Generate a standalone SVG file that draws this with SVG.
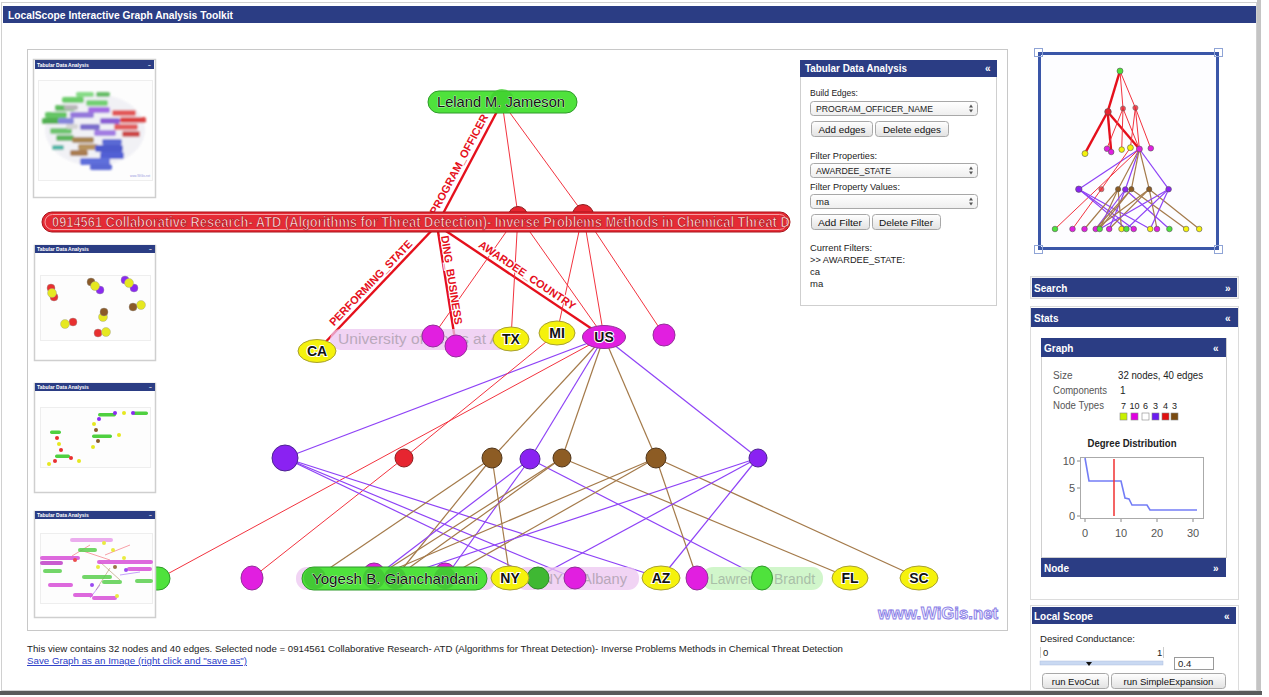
<svg xmlns="http://www.w3.org/2000/svg" width="1269" height="697" viewBox="0 0 1269 697">
<defs>
<style>
text{font-family:"Liberation Sans",Arial,sans-serif}
.hdr{fill:#2b3d84}
.ht{fill:#fff;font-weight:bold;font-size:10px}
.tt{fill:#fff;font-weight:bold;font-size:5px}
.lbl{font-size:9.5px;fill:#222}
.btn{fill:url(#gbtn);stroke:#a8a8a8}
.sel{fill:url(#gsel);stroke:#a8a8a8}
.bt{font-size:9.5px;fill:#111;text-anchor:middle}
.panel{fill:#fff;stroke:#cfcfcf}
#connectors line{vector-effect:non-scaling-stroke;fill:none}
.er{stroke:#f2333f;stroke-width:1}
.et{stroke:#e5101c;stroke-width:2.4}
.ep{stroke:#8e42f6;stroke-width:1.2}
.eb{stroke:#a47a4a;stroke-width:1.2}
.ny{fill:#f5f20c;stroke:#a8a030}
.nm{fill:#e11fe0;stroke:#93309a}
.np{fill:#8a22f2;stroke:#4d2590}
.nr{fill:#e62530;stroke:#8e2020}
.nb{fill:#8d5c24;stroke:#50351a}
.ng{fill:#4fe23c;stroke:#2f9a2a}
.nl{font-size:14px;font-weight:bold;fill:#111;text-anchor:middle;stroke:#fff;stroke-width:2;paint-order:stroke}
.el{font-size:11px;font-weight:bold;fill:#e5101c;stroke:#fff;stroke-width:2;paint-order:stroke;text-anchor:middle}
.mm circle{stroke:#555;stroke-width:.6}
.st{font-size:10px;fill:#555}
.sv{font-size:10px;fill:#222}
.ax{font-size:11px;fill:#555}
</style>
<linearGradient id="gbtn" x1="0" y1="0" x2="0" y2="1"><stop offset="0" stop-color="#ffffff"/><stop offset="1" stop-color="#e2e2e2"/></linearGradient>
<linearGradient id="gsel" x1="0" y1="0" x2="0" y2="1"><stop offset="0" stop-color="#ffffff"/><stop offset="1" stop-color="#eeeeee"/></linearGradient>
<clipPath id="barclip"><rect x="42" y="212" width="748" height="20" rx="10"/></clipPath>
<filter id="soft" x="-10%" y="-10%" width="120%" height="120%"><feGaussianBlur stdDeviation="1"/></filter>
</defs>

<!-- page -->
<rect x="0" y="0" width="1269" height="697" fill="#ffffff"/>
<rect x="1.5" y="2.5" width="1255" height="688" fill="none" stroke="#d0d0d0"/>
<rect x="1257" y="0" width="4" height="692" fill="#c4c4c4"/>
<rect x="0" y="691" width="1262" height="4" fill="#5a5a5a"/>

<!-- title bar -->
<g id="titlebar">
<rect x="3" y="6" width="1253" height="17" class="hdr"/>
<text x="8" y="18.5" class="ht" font-size="10" textLength="225" lengthAdjust="spacingAndGlyphs">LocalScope Interactive Graph Analysis Toolkit</text>
</g>

<!-- main canvas -->
<rect x="27.5" y="49.5" width="980" height="581" fill="#fff" stroke="#c8c8c8"/>

<!-- connectors -->
<g id="connectors">
<line class="et" x1="502" y1="102" x2="437" y2="225"/>
<line class="er" x1="502" y1="102" x2="518" y2="215"/>
<line class="er" x1="502" y1="102" x2="583" y2="213"/>
<line class="et" x1="437" y1="225" x2="317" y2="351"/>
<line class="et" x1="437" y1="225" x2="456" y2="346"/>
<line class="et" x1="437" y1="225" x2="604" y2="337"/>
<line class="er" x1="518" y1="215" x2="433" y2="336"/>
<line class="er" x1="518" y1="215" x2="511" y2="339"/>
<line class="er" x1="518" y1="215" x2="604" y2="337"/>
<line class="er" x1="583" y1="213" x2="557" y2="333"/>
<line class="er" x1="583" y1="213" x2="604" y2="337"/>
<line class="er" x1="583" y1="213" x2="664" y2="335"/>
<line class="ep" x1="604" y1="337" x2="285" y2="458"/>
<line class="eb" x1="604" y1="337" x2="492" y2="458"/>
<line class="ep" x1="604" y1="337" x2="530" y2="459"/>
<line class="eb" x1="604" y1="337" x2="562" y2="458"/>
<line class="eb" x1="604" y1="337" x2="656" y2="458"/>
<line class="ep" x1="604" y1="337" x2="758" y2="458"/>
<line class="er" x1="557" y1="333" x2="404" y2="458"/>
<line class="er" x1="404" y1="458" x2="252" y2="578"/>
<line class="er" x1="604" y1="337" x2="160" y2="578"/>
<line class="ep" x1="285" y1="458" x2="536" y2="578"/>
<line class="ep" x1="285" y1="458" x2="574" y2="578"/>
<line class="ep" x1="285" y1="458" x2="661" y2="578"/>
<line class="eb" x1="492" y1="458" x2="315" y2="578"/>
<line class="eb" x1="492" y1="458" x2="395" y2="578"/>
<line class="eb" x1="492" y1="458" x2="510" y2="578"/>
<line class="ep" x1="530" y1="459" x2="374" y2="578"/>
<line class="ep" x1="530" y1="459" x2="445" y2="578"/>
<line class="ep" x1="530" y1="459" x2="762" y2="578"/>
<line class="eb" x1="562" y1="458" x2="374" y2="578"/>
<line class="eb" x1="562" y1="458" x2="395" y2="578"/>
<line class="eb" x1="562" y1="458" x2="850" y2="578"/>
<line class="eb" x1="656" y1="458" x2="445" y2="578"/>
<line class="eb" x1="656" y1="458" x2="697" y2="578"/>
<line class="eb" x1="656" y1="458" x2="919" y2="578"/>
<line class="eb" x1="656" y1="458" x2="374" y2="578"/>
<line class="ep" x1="758" y1="458" x2="395" y2="578"/>
<line class="ep" x1="758" y1="458" x2="536" y2="578"/>
<line class="ep" x1="758" y1="458" x2="661" y2="578"/>
</g>

<!-- edge labels -->
<g id="edge-labels">
<text class="el" transform="translate(464,167) rotate(-62)" y="-2" textLength="112" lengthAdjust="spacingAndGlyphs">PROGRAM_OFFICER</text>
<text class="el" transform="translate(375,287) rotate(-46)" y="-2" textLength="114" lengthAdjust="spacingAndGlyphs">PERFORMING_STATE</text>
<text class="el" transform="translate(446,281) rotate(81)" y="-2" textLength="90" lengthAdjust="spacingAndGlyphs">DING_BUSINESS</text>
<text class="el" transform="translate(524,280) rotate(34)" y="-2" textLength="114" lengthAdjust="spacingAndGlyphs">AWARDEE_COUNTRY</text>
</g>

<!-- faint (unselected) labels -->
<g id="faint-labels">
<rect x="330" y="329" width="180" height="21" rx="10" fill="#ecc6f0" opacity="0.75"/>
<text x="338" y="344" font-size="14" fill="#b9a9bb" textLength="162" lengthAdjust="spacingAndGlyphs">University of Texas at A</text>
<rect x="296" y="567" width="200" height="23" rx="11" fill="#ecc6f0" opacity="0.75"/>
<rect x="515" y="567" width="124" height="23" rx="11" fill="#ecc6f0" opacity="0.75"/>
<text x="522" y="584" font-size="14" fill="#b8a8ba" textLength="105" lengthAdjust="spacingAndGlyphs">SUNY at Albany</text>
<rect x="702" y="567" width="121" height="23" rx="11" fill="#c9f5c2" opacity="0.85"/>
<text x="710" y="584" font-size="14" fill="#a9bfa8" textLength="105" lengthAdjust="spacingAndGlyphs">Lawrence Brandt</text>
</g>

<!-- level 2 nodes -->
<g id="n-ca"><ellipse class="ny" cx="317" cy="351" rx="19" ry="11.5"/><text class="nl" x="317" y="356">CA</text></g>
<g id="n-m433"><circle class="nm" cx="433" cy="336" r="11"/></g>
<g id="n-m456"><circle class="nm" cx="456" cy="346" r="11"/></g>
<g id="n-tx"><ellipse class="ny" cx="511" cy="339" rx="18" ry="12"/><text class="nl" x="511" y="344">TX</text></g>
<g id="n-mi"><ellipse class="ny" cx="557" cy="333" rx="18" ry="12"/><text class="nl" x="557" y="338">MI</text></g>
<g id="n-us"><ellipse class="nm" cx="604" cy="337" rx="21.5" ry="11.5"/><text class="nl" x="604" y="342">US</text></g>
<g id="n-m664"><circle class="nm" cx="664" cy="335" r="11"/></g>

<!-- level 3 nodes -->
<g id="n-p285"><circle class="np" cx="285" cy="458" r="13"/></g>
<g id="n-r404"><circle class="nr" cx="404" cy="458" r="9"/></g>
<g id="n-b492"><circle class="nb" cx="492" cy="458" r="10"/></g>
<g id="n-p530"><circle class="np" cx="530" cy="459" r="10"/></g>
<g id="n-b562"><circle class="nb" cx="562" cy="458" r="9"/></g>
<g id="n-b656"><circle class="nb" cx="656" cy="458" r="10"/></g>
<g id="n-p758"><circle class="np" cx="758" cy="458" r="9"/></g>

<!-- bottom row -->
<g id="n-g160"><rect class="ng" x="95" y="567" width="75" height="23" rx="11.5"/></g>
<g id="n-m252"><ellipse class="nm" cx="252" cy="578" rx="11" ry="12"/></g>
<g id="n-m374"><circle class="nm" cx="374" cy="574" r="11"/></g>
<g id="n-m445"><circle class="nm" cx="445" cy="574" r="11"/></g>
<g id="n-yogesh">
<rect class="ng" x="302" y="567" width="185" height="23" rx="11.5"/>
<circle cx="315" cy="578" r="11" fill="#3db52f" opacity="0.55"/>
<circle cx="374" cy="578" r="11" fill="#3db52f" opacity="0.55"/>
<circle cx="395" cy="578" r="11" fill="#3db52f" opacity="0.55"/>
<circle cx="445" cy="578" r="11" fill="#3db52f" opacity="0.55"/>
<text x="395" y="584" font-size="15" fill="#111" text-anchor="middle" stroke="#fff" stroke-width="0.6" paint-order="stroke" textLength="166" lengthAdjust="spacingAndGlyphs">Yogesh B. Gianchandani</text>
</g>
<g id="n-g536"><circle cx="538" cy="578" r="11" fill="#3fb833" stroke="#2f8a2a"/></g>
<g id="n-ny"><ellipse class="ny" cx="510" cy="578" rx="19" ry="12"/><text class="nl" x="510" y="583">NY</text></g>
<g id="n-m574"><circle class="nm" cx="575" cy="578" r="11"/></g>
<g id="n-az"><ellipse class="ny" cx="661" cy="578" rx="19" ry="12"/><text class="nl" x="661" y="583">AZ</text></g>
<g id="n-m697"><ellipse class="nm" cx="697" cy="578" rx="11" ry="12"/></g>
<g id="n-g762"><ellipse class="ng" cx="762" cy="578" rx="10.5" ry="12"/></g>
<g id="n-fl"><ellipse class="ny" cx="850" cy="578" rx="18" ry="12"/><text class="nl" x="850" y="583">FL</text></g>
<g id="n-sc"><ellipse class="ny" cx="919" cy="578" rx="19" ry="12"/><text class="nl" x="919" y="583">SC</text></g>

<!-- level 1 red nodes -->
<g id="n-r518"><circle class="nr" cx="518" cy="216" r="9.5"/></g>
<g id="n-r583"><circle class="nr" cx="583" cy="215" r="10.5"/></g>

<!-- selected node bar -->
<g id="n-selected">
<rect x="42" y="212" width="748" height="20" rx="10" fill="#e52b35" stroke="#a8121a"/>
<rect x="45" y="214.5" width="742" height="15" rx="7.5" fill="none" stroke="#f7a0a4" stroke-width="1"/>
<g clip-path="url(#barclip)">
<text transform="translate(52,227) scale(0.87,1)" x="0" y="0" font-size="14" font-weight="bold" fill="#ffe4e4" stroke="#b30d16" stroke-width="0.7" textLength="848" lengthAdjust="spacingAndGlyphs">0914561 Collaborative Research- ATD (Algorithms for Threat Detection)- Inverse Problems Methods in Chemical Threat D</text>
</g>
</g>

<!-- top node -->
<g id="n-leland">
<rect class="ng" x="428" y="91" width="149" height="22" rx="11"/>
<circle cx="502" cy="101" r="12" fill="#3fcf2e" opacity="0.75"/>
<text x="501" y="107" font-size="15" fill="#111" text-anchor="middle" stroke="#fff" stroke-width="0.6" paint-order="stroke" textLength="128" lengthAdjust="spacingAndGlyphs">Leland M. Jameson</text>
</g>

<!-- watermark -->
<text x="878" y="619" font-size="16" font-weight="bold" fill="#f2f0ff" stroke="#8b80e6" stroke-width="0.9" textLength="120" lengthAdjust="spacingAndGlyphs">www.WiGis.net</text>

<!-- thumbnails -->
<g id="thumb1">
<rect x="33.5" y="59.5" width="122" height="138" class="panel" stroke-width="1.5"/>
<rect x="35" y="60" width="119" height="9" class="hdr"/>
<text x="37" y="66.5" class="tt">Tabular Data Analysis</text>
<text x="148" y="67" class="tt">–</text>
<rect x="38.5" y="80.5" width="114" height="100" fill="#fdfdfd" stroke="#eee"/>
<g filter="url(#soft)" opacity="0.9">
<ellipse cx="95" cy="130" rx="50" ry="36" fill="#f0f0f5"/>
<rect x="62" y="97" width="22" height="6" rx="2" fill="#5cc85a"/>
<rect x="76" y="92" width="18" height="5" rx="2" fill="#7ad87a"/>
<rect x="86" y="100" width="22" height="6" rx="2" fill="#66cc66"/>
<rect x="96" y="92" width="14" height="5" rx="2" fill="#58b858"/>
<rect x="55" y="105" width="20" height="6" rx="2" fill="#4fb84f"/>
<rect x="45" y="112" width="22" height="6" rx="2" fill="#55c055"/>
<rect x="42" y="118" width="18" height="6" rx="2" fill="#3fa83f"/>
<rect x="58" y="118" width="16" height="6" rx="2" fill="#7a7ad8"/>
<rect x="70" y="112" width="24" height="6" rx="2" fill="#8a6ad8"/>
<rect x="88" y="107" width="22" height="6" rx="2" fill="#9a60e0"/>
<rect x="100" y="118" width="20" height="6" rx="2" fill="#8050d0"/>
<rect x="80" y="124" width="20" height="6" rx="2" fill="#7060c8"/>
<rect x="94" y="130" width="22" height="6" rx="2" fill="#9a70e0"/>
<rect x="112" y="110" width="24" height="6" rx="2" fill="#e04848"/>
<rect x="120" y="117" width="26" height="6" rx="2" fill="#d83030"/>
<rect x="114" y="124" width="24" height="6" rx="2" fill="#e05050"/>
<rect x="122" y="131" width="18" height="6" rx="2" fill="#c83838"/>
<rect x="50" y="128" width="22" height="6" rx="2" fill="#60c060"/>
<rect x="56" y="135" width="18" height="6" rx="2" fill="#50b050"/>
<rect x="52" y="145" width="12" height="5" rx="2" fill="#40b0a0"/>
<rect x="72" y="137" width="22" height="6" rx="2" fill="#a07a40"/>
<rect x="78" y="144" width="20" height="6" rx="2" fill="#b08850"/>
<rect x="70" y="150" width="18" height="6" rx="2" fill="#a07040"/>
<rect x="102" y="139" width="20" height="6" rx="2" fill="#4a5ad0"/>
<rect x="95" y="145" width="28" height="7" rx="2" fill="#3a4ac8"/>
<rect x="100" y="152" width="24" height="7" rx="2" fill="#4050d0"/>
<rect x="80" y="158" width="30" height="7" rx="2" fill="#5060d8"/>
<rect x="90" y="164" width="22" height="6" rx="2" fill="#4a58d0"/>
<rect x="64" y="105" width="14" height="5" rx="2" fill="#b0b0b0"/>
<rect x="66" y="124" width="12" height="5" rx="2" fill="#d0d0d0"/>
</g>
<text x="130" y="177" font-size="3" fill="#9a9ae0">www.WiGis.net</text>
</g>

<g id="thumb2">
<rect x="34.5" y="245.5" width="121" height="115" class="panel" stroke-width="1.5"/>
<rect x="35" y="245" width="120" height="8" class="hdr"/>
<text x="37" y="251" class="tt">Tabular Data Analysis</text>
<text x="149" y="251" class="tt">–</text>
<rect x="40.5" y="275.5" width="110" height="65" fill="#fdfdfd" stroke="#eee"/>
<g stroke="#999" stroke-width="0.4">
<circle cx="51" cy="288" r="4" fill="#e83030"/><circle cx="54" cy="297" r="4" fill="#e83030"/><circle cx="52" cy="293" r="4.5" fill="#e6e820"/>
<circle cx="91" cy="282" r="4" fill="#8a5a28"/><circle cx="100" cy="290" r="4" fill="#8a2af0"/><circle cx="95" cy="286" r="4.5" fill="#e6e820"/>
<circle cx="125" cy="280" r="4" fill="#8a2af0"/><circle cx="134" cy="288" r="4" fill="#8a2af0"/><circle cx="129" cy="283" r="4.5" fill="#e6e820"/>
<circle cx="141" cy="305" r="4.5" fill="#e6e820"/><circle cx="133" cy="307" r="4" fill="#8a5a28"/>
<circle cx="103" cy="317" r="4.5" fill="#e6e820"/><circle cx="104" cy="312" r="4" fill="#8a5a28"/>
<circle cx="73" cy="322" r="4" fill="#e83030"/><circle cx="65" cy="324" r="4.5" fill="#e6e820"/>
<circle cx="98" cy="333" r="4" fill="#e83030"/><circle cx="106" cy="332" r="4.5" fill="#e6e820"/>
</g>
</g>

<g id="thumb3">
<rect x="34.5" y="383.5" width="121" height="109" class="panel" stroke-width="1.5"/>
<rect x="35" y="383" width="120" height="8" class="hdr"/>
<text x="37" y="389" class="tt">Tabular Data Analysis</text>
<text x="149" y="389" class="tt">–</text>
<rect x="40.5" y="407.5" width="110" height="60" fill="#fdfdfd" stroke="#eee"/>
<g>
<rect x="98" y="413" width="18" height="3.5" rx="1.7" fill="#4fd040"/>
<rect x="133" y="411.5" width="15" height="3.5" rx="1.7" fill="#4fd040"/>
<rect x="92" y="434.5" width="20" height="3.5" rx="1.7" fill="#4fd040"/>
<rect x="50" y="430.5" width="11" height="3.5" rx="1.7" fill="#4fd040"/>
<rect x="55" y="454.5" width="15" height="3.5" rx="1.7" fill="#4fd040"/>
<circle cx="99" cy="419" r="2" fill="#8a2af0"/><circle cx="115" cy="413" r="2" fill="#8a2af0"/><circle cx="124" cy="413" r="2" fill="#e6e820"/><circle cx="133" cy="413" r="2" fill="#8a2af0"/>
<circle cx="94" cy="424" r="2" fill="#e6e820"/><circle cx="96" cy="430" r="2" fill="#8a5a28"/><circle cx="119" cy="435" r="2" fill="#e6e820"/><circle cx="98" cy="441" r="2" fill="#8a5a28"/><circle cx="93" cy="447" r="2" fill="#e6e820"/>
<circle cx="57" cy="438" r="2" fill="#e83030"/><circle cx="59" cy="444" r="2" fill="#e6e820"/><circle cx="61" cy="450" r="2" fill="#e83030"/><circle cx="71" cy="458" r="2" fill="#e83030"/><circle cx="79" cy="461" r="2" fill="#e6e820"/><circle cx="55" cy="461" r="2" fill="#e83030"/><circle cx="49" cy="464" r="2" fill="#e6e820"/>
</g>
</g>

<g id="thumb4">
<rect x="34.5" y="511.5" width="121" height="106" class="panel" stroke-width="1.5"/>
<rect x="35" y="511" width="120" height="8" class="hdr"/>
<text x="37" y="517" class="tt">Tabular Data Analysis</text>
<text x="149" y="517" class="tt">–</text>
<rect x="40.5" y="533.5" width="112" height="70" fill="#fdfdfd" stroke="#eee"/>
<g stroke-width="0.5" fill="none">
<line x1="80" y1="550" x2="110" y2="560" stroke="#f04050"/><line x1="72" y1="556" x2="90" y2="545" stroke="#f04050"/>
<line x1="100" y1="562" x2="120" y2="580" stroke="#a07a48"/><line x1="110" y1="568" x2="96" y2="590" stroke="#a07a48"/>
<line x1="120" y1="575" x2="140" y2="572" stroke="#8e42f6"/><line x1="100" y1="585" x2="90" y2="598" stroke="#8e42f6"/>
<line x1="105" y1="555" x2="130" y2="545" stroke="#f04050"/>
</g>
<g opacity="0.85">
<rect x="70" y="538" width="43" height="4" rx="2" fill="#e8a0ec"/>
<rect x="40" y="556" width="40" height="4" rx="2" fill="#d850d8"/>
<rect x="40" y="561" width="23" height="4" rx="2" fill="#c040c8"/>
<rect x="78" y="548" width="19" height="4" rx="2" fill="#5cd050"/>
<rect x="43" y="569" width="19" height="4" rx="2" fill="#5cd050"/>
<rect x="97" y="560" width="56" height="4" rx="2" fill="#d850d8"/>
<rect x="127" y="567" width="25" height="4" rx="2" fill="#d850d8"/>
<rect x="82" y="575" width="30" height="4" rx="2" fill="#5cd050"/>
<rect x="102" y="580" width="20" height="4" rx="2" fill="#5cd050"/>
<rect x="135" y="579" width="18" height="4" rx="2" fill="#5cd050"/>
<rect x="48" y="583" width="25" height="4" rx="2" fill="#d850d8"/>
<rect x="73" y="593" width="20" height="4" rx="2" fill="#d850d8"/>
<rect x="92" y="596" width="25" height="4" rx="2" fill="#d850d8"/>
<circle cx="104" cy="543" r="2" fill="#e6e820"/><circle cx="113" cy="550" r="2" fill="#e6e820"/><circle cx="124" cy="558" r="2" fill="#e6e820"/>
<circle cx="98" cy="567" r="2" fill="#e6e820"/><circle cx="115" cy="567" r="2" fill="#8a5a28"/><circle cx="126" cy="570" r="2" fill="#8a2af0"/>
<circle cx="92" cy="585" r="2" fill="#8a2af0"/><circle cx="117" cy="596" r="2" fill="#e6e820"/><circle cx="75" cy="560" r="2" fill="#e83030"/>
</g>
</g>

<!-- Tabular Data Analysis panel -->
<g id="tabular-panel">
<rect x="800.5" y="60.5" width="196" height="245" class="panel"/>
<rect x="800" y="60" width="197" height="17" class="hdr"/>
<text x="805" y="72" class="ht" textLength="102" lengthAdjust="spacingAndGlyphs">Tabular Data Analysis</text>
<text x="985" y="72" class="ht">«</text>
<text x="810" y="96" class="lbl" textLength="48" lengthAdjust="spacingAndGlyphs">Build Edges:</text>
<rect x="810.5" y="101.5" width="167" height="14" rx="3" class="sel"/>
<text x="816" y="111.5" class="lbl" font-size="9" textLength="117" lengthAdjust="spacingAndGlyphs">PROGRAM_OFFICER_NAME</text>
<path d="M969 107.5 l2 -3 l2 3z M969 109.5 l2 3 l2 -3z" fill="#555"/>
<rect x="811.5" y="121.5" width="61" height="15" rx="3" class="btn"/>
<text x="842" y="132.5" class="bt" textLength="47" lengthAdjust="spacingAndGlyphs">Add edges</text>
<rect x="875.5" y="121.5" width="73" height="15" rx="3" class="btn"/>
<text x="912" y="132.5" class="bt" textLength="58" lengthAdjust="spacingAndGlyphs">Delete edges</text>
<text x="810" y="159" class="lbl" textLength="67" lengthAdjust="spacingAndGlyphs">Filter Properties:</text>
<rect x="810.5" y="163.5" width="167" height="14" rx="3" class="sel"/>
<text x="816" y="174" class="lbl" font-size="9" textLength="75" lengthAdjust="spacingAndGlyphs">AWARDEE_STATE</text>
<path d="M969 169.5 l2 -3 l2 3z M969 171.5 l2 3 l2 -3z" fill="#555"/>
<text x="810" y="190" class="lbl" textLength="90" lengthAdjust="spacingAndGlyphs">Filter Property Values:</text>
<rect x="810.5" y="194.5" width="167" height="14" rx="3" class="sel"/>
<text x="816" y="205" class="lbl" font-size="9">ma</text>
<path d="M969 200.5 l2 -3 l2 3z M969 202.5 l2 3 l2 -3z" fill="#555"/>
<rect x="811.5" y="214.5" width="58" height="15" rx="3" class="btn"/>
<text x="840" y="225.5" class="bt" textLength="44" lengthAdjust="spacingAndGlyphs">Add Filter</text>
<rect x="872.5" y="214.5" width="68" height="15" rx="3" class="btn"/>
<text x="906" y="225.5" class="bt" textLength="54" lengthAdjust="spacingAndGlyphs">Delete Filter</text>
<text x="810" y="251" class="lbl" textLength="62" lengthAdjust="spacingAndGlyphs">Current Filters:</text>
<text x="810" y="263" class="lbl" textLength="95" lengthAdjust="spacingAndGlyphs">&gt;&gt; AWARDEE_STATE:</text>
<text x="810" y="275" class="lbl">ca</text>
<text x="810" y="287" class="lbl">ma</text>
</g>

<!-- bottom status text -->
<text x="27" y="652" font-size="9.5" fill="#222" textLength="816" lengthAdjust="spacingAndGlyphs">This view contains 32 nodes and 40 edges. Selected node = 0914561 Collaborative Research- ATD (Algorithms for Threat Detection)- Inverse Problems Methods in Chemical Threat Detection</text>
<text x="27" y="664" font-size="9.5" fill="#2a3cc8" text-decoration="underline" textLength="220" lengthAdjust="spacingAndGlyphs">Save Graph as an Image (right click and "save as")</text>

<!-- minimap -->
<g id="minimap">
<rect x="1039.5" y="53.5" width="178" height="195" fill="#fdfdff" stroke="#3a56a8" stroke-width="3"/>
<use href="#connectors" transform="matrix(0.19,0,0,0.332,1024.6,37.1)"/>
<g class="mm">
<circle class="ng" cx="1120" cy="71" r="3"/>
<circle class="nr" cx="1108" cy="111.8" r="3.3"/>
<circle class="nr" cx="1123" cy="108.5" r="2.6" opacity="0.8"/>
<circle class="nr" cx="1135.4" cy="107.8" r="2.6" opacity="0.8"/>
<circle class="ny" cx="1085" cy="153.6" r="3"/>
<circle class="nm" cx="1107" cy="148.7" r="2.8"/>
<circle class="nm" cx="1111.2" cy="152" r="2.8"/>
<circle class="ny" cx="1121.7" cy="149.6" r="2.8"/>
<circle class="ny" cx="1130.4" cy="147.7" r="3"/>
<circle class="nm" cx="1139.4" cy="149" r="3"/>
<circle class="nm" cx="1150.8" cy="148.3" r="2.8"/>
<circle class="np" cx="1078.8" cy="189.2" r="3.2"/>
<circle class="nr" cx="1101.4" cy="189.2" r="2.6" opacity="0.8"/>
<circle class="nb" cx="1118.1" cy="189.2" r="2.6"/>
<circle class="np" cx="1125.3" cy="189.5" r="2.8"/>
<circle class="nb" cx="1131.4" cy="189.2" r="2.6"/>
<circle class="nb" cx="1149.2" cy="189.2" r="2.6"/>
<circle class="np" cx="1168.6" cy="189.2" r="2.8"/>
<circle class="ng" cx="1055" cy="229" r="2.8"/>
<circle class="nm" cx="1072.5" cy="229" r="2.8"/>
<circle class="nm" cx="1084.5" cy="229" r="2.8"/>
<circle class="nm" cx="1095.7" cy="229" r="2.8"/>
<circle class="ng" cx="1099.7" cy="229" r="2.8"/>
<circle class="nm" cx="1109.2" cy="229" r="2.8"/>
<circle class="ny" cx="1121.5" cy="229" r="2.8"/>
<circle class="ng" cx="1126.4" cy="229" r="2.8"/>
<circle class="nm" cx="1133.7" cy="229" r="2.8"/>
<circle class="ny" cx="1150.2" cy="229" r="2.8"/>
<circle class="nm" cx="1157" cy="229" r="2.8"/>
<circle class="ng" cx="1169.4" cy="229" r="2.8"/>
<circle class="ny" cx="1186.1" cy="229" r="2.8"/>
<circle class="ny" cx="1199.2" cy="229" r="2.8"/>
</g>
<g fill="none" stroke="#8fa4d6" stroke-width="1">
<rect x="1034.5" y="48.5" width="8" height="8"/>
<rect x="1214.5" y="48.5" width="8" height="8"/>
<rect x="1034.5" y="245.5" width="8" height="8"/>
<rect x="1214.5" y="245.5" width="8" height="8"/>
</g>
</g>

<!-- Search -->
<g id="search-panel">
<rect x="1030.5" y="276.5" width="208" height="22" fill="#f2f2f2" stroke="#dcdcdc"/>
<rect x="1032" y="278" width="205" height="19" class="hdr"/>
<text x="1034" y="291.5" class="ht">Search</text>
<text x="1225" y="291.5" class="ht">»</text>
</g>

<!-- Stats -->
<g id="stats-panel">
<rect x="1030.5" y="306.5" width="208" height="293" fill="#fff" stroke="#dcdcdc"/>
<rect x="1031" y="308" width="207" height="19" class="hdr"/>
<text x="1034" y="321.5" class="ht">Stats</text>
<text x="1225" y="321.5" class="ht">«</text>
<rect x="1041.5" y="338.5" width="185" height="219" fill="#fff" stroke="#cfcfcf"/>
<rect x="1041" y="338" width="185" height="19" class="hdr"/>
<text x="1044" y="351.5" class="ht">Graph</text>
<text x="1213" y="351.5" class="ht">«</text>
<text x="1053" y="379" class="st">Size</text>
<text x="1118" y="379" class="sv" textLength="85" lengthAdjust="spacingAndGlyphs">32 nodes, 40 edges</text>
<text x="1053" y="394" class="st" textLength="54" lengthAdjust="spacingAndGlyphs">Components</text>
<text x="1120" y="394" class="sv">1</text>
<text x="1053" y="409" class="st" textLength="51" lengthAdjust="spacingAndGlyphs">Node Types</text>
<g font-size="9" fill="#222" text-anchor="middle">
<text x="1123.5" y="409">7</text><text x="1134.5" y="409">10</text><text x="1145.5" y="409">6</text><text x="1155.5" y="409">3</text><text x="1165.5" y="409">4</text><text x="1174.5" y="409">3</text>
</g>
<g stroke="#888" stroke-width="0.6">
<rect x="1120" y="413" width="7" height="7" fill="#c8f000"/>
<rect x="1131" y="413" width="7" height="7" fill="#e000e0"/>
<rect x="1142" y="413" width="7" height="7" fill="#ffffff"/>
<rect x="1152" y="413" width="7" height="7" fill="#6a1cf0"/>
<rect x="1162" y="413" width="7" height="7" fill="#e01010"/>
<rect x="1171" y="413" width="7" height="7" fill="#7a4a10"/>
</g>
<text x="1132" y="447" font-size="10" font-weight="bold" fill="#222" text-anchor="middle" textLength="89" lengthAdjust="spacingAndGlyphs">Degree Distribution</text>
<rect x="1080.5" y="457.5" width="123" height="61" fill="#fff" stroke="#aaa"/>
<g stroke="#888" stroke-width="1">
<line x1="1077" y1="461" x2="1080" y2="461"/><line x1="1077" y1="488" x2="1080" y2="488"/><line x1="1077" y1="516" x2="1080" y2="516"/>
<line x1="1085" y1="519" x2="1085" y2="522"/><line x1="1121" y1="519" x2="1121" y2="522"/><line x1="1157" y1="519" x2="1157" y2="522"/><line x1="1193" y1="519" x2="1193" y2="522"/>
</g>
<g class="ax" text-anchor="end">
<text x="1075" y="465">10</text><text x="1075" y="492">5</text><text x="1075" y="520">0</text>
</g>
<g class="ax" text-anchor="middle">
<text x="1085" y="537">0</text><text x="1121" y="537">10</text><text x="1157" y="537">20</text><text x="1193" y="537">30</text>
</g>
<polyline points="1085,458 1089,481 1121,481 1125,498 1129,499 1132,505 1147,505 1150,510 1197,510" fill="none" stroke="#5a66f4" stroke-width="1.6" opacity="0.85"/>
<line x1="1114" y1="459" x2="1114" y2="516" stroke="#f03030" stroke-width="1.5"/>
<rect x="1041" y="558" width="185" height="19" class="hdr"/>
<text x="1044" y="571.5" class="ht">Node</text>
<text x="1213" y="571.5" class="ht">»</text>
</g>

<!-- Local Scope -->
<g id="localscope-panel">
<rect x="1030.5" y="605.5" width="208" height="85" fill="#fff" stroke="#dcdcdc"/>
<rect x="1032" y="607" width="204" height="17" class="hdr"/>
<text x="1034" y="619.5" class="ht">Local Scope</text>
<text x="1224" y="619.5" class="ht">«</text>
<text x="1040" y="642" class="lbl" textLength="95" lengthAdjust="spacingAndGlyphs">Desired Conductance:</text>
<line x1="1040.5" y1="647" x2="1040.5" y2="658" stroke="#ccc"/>
<line x1="1163.5" y1="647" x2="1163.5" y2="658" stroke="#ccc"/>
<text x="1043" y="656" class="lbl">0</text>
<text x="1157" y="656" class="lbl">1</text>
<rect x="1040" y="661" width="123" height="4" fill="#c9d9f2" stroke="#aebfdd" stroke-width="0.5"/>
<path d="M1086 662 L1092 662 L1089 666 Z" fill="#111"/>
<rect x="1174.5" y="657.5" width="39" height="12" fill="#fff" stroke="#9a9a9a"/>
<text x="1178" y="667" class="lbl">0.4</text>
<rect x="1042.5" y="673.5" width="66" height="15" rx="3" class="btn"/>
<text x="1075.5" y="684.5" class="bt">run EvoCut</text>
<rect x="1111.5" y="673.5" width="114" height="15" rx="3" class="btn"/>
<text x="1168.5" y="684.5" class="bt">run SimpleExpansion</text>
</g>
</svg>
